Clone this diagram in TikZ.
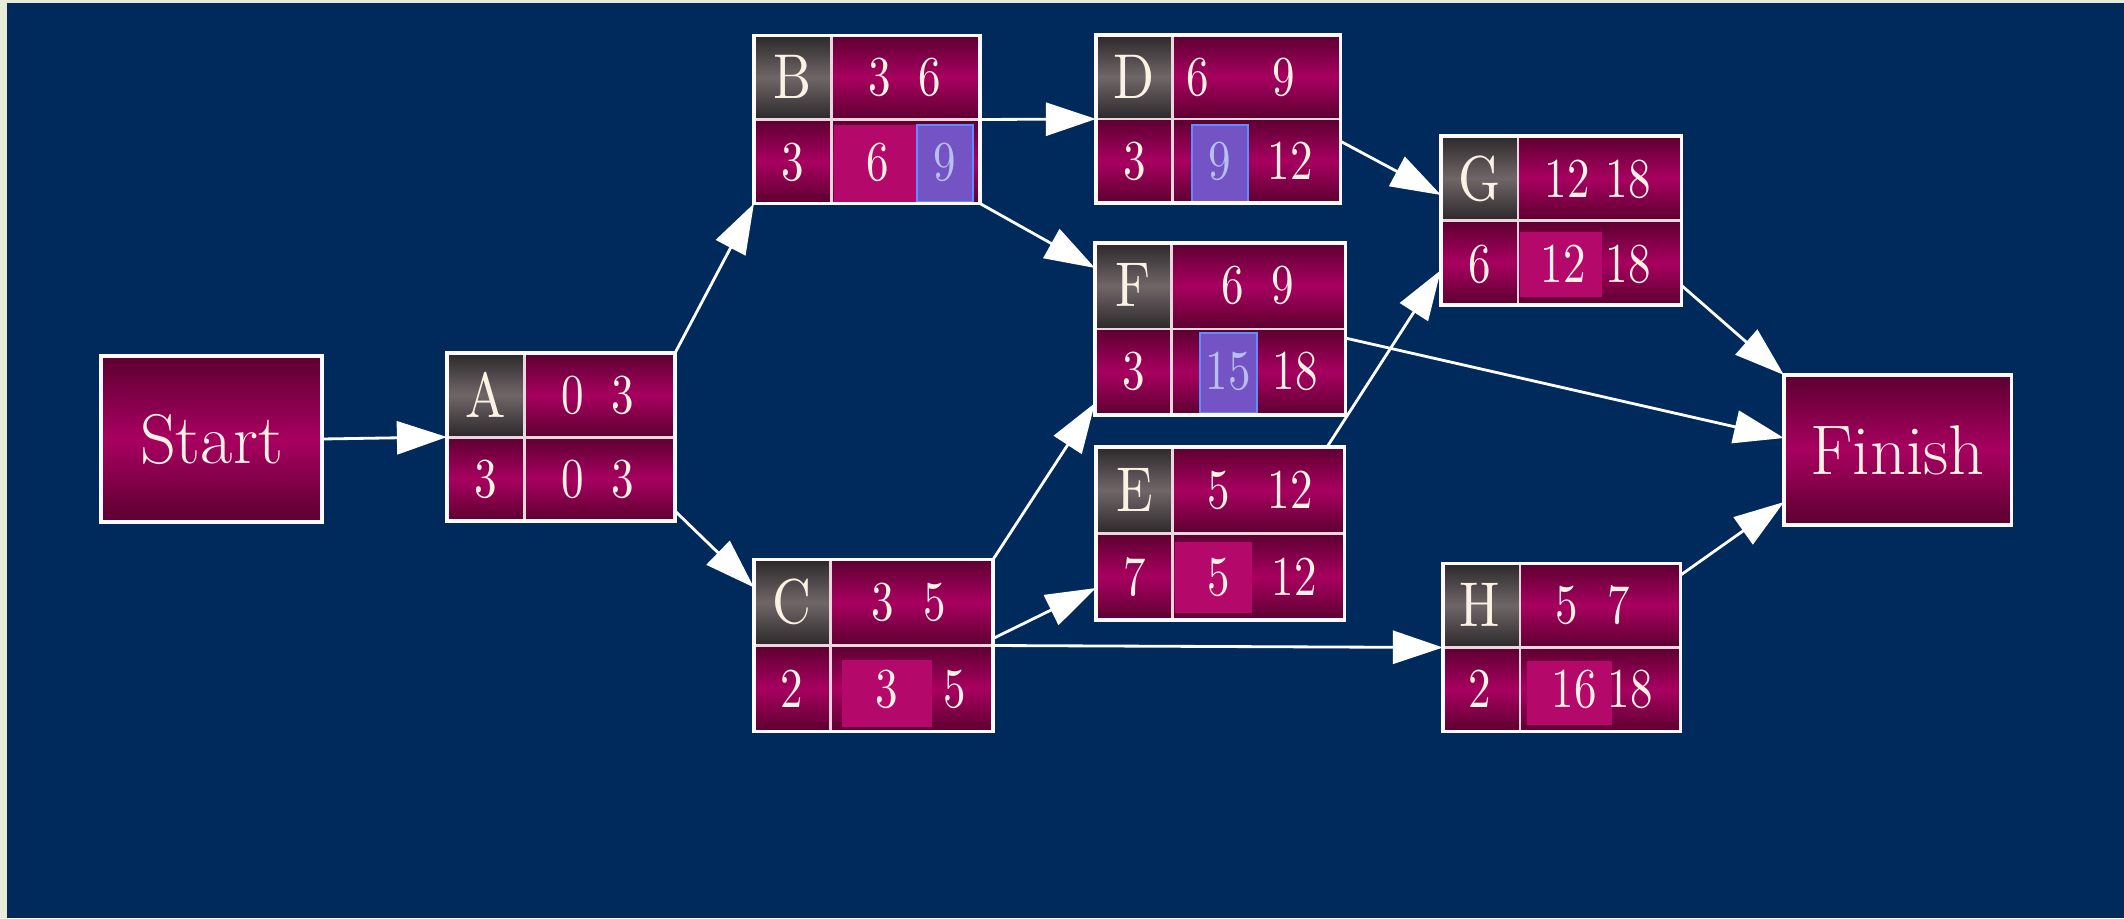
\documentclass[tikz,border=0pt]{standalone}
\usepackage{fontspec}
\newfontfamily\narrowfont{lmroman10-regular.otf}[FakeStretch=0.8]
\newfontfamily\letterfont{lmroman10-regular.otf}[FakeStretch=0.85]
\usepackage{tikz}
\usetikzlibrary{arrows.meta}

\definecolor{slidenavy}{RGB}{0,42,92}
\definecolor{slidecream}{RGB}{232,236,214}
\definecolor{crimdark}{RGB}{92,0,48}
\definecolor{crimmid}{RGB}{168,0,96}
\definecolor{crimlight}{RGB}{180,8,106}
\definecolor{namedark}{RGB}{44,40,42}
\definecolor{namemid}{RGB}{112,102,104}
\definecolor{pickfill}{RGB}{116,84,196}
\definecolor{pickline}{RGB}{96,140,255}
\definecolor{picktext}{RGB}{185,190,240}
\definecolor{gridline}{RGB}{236,214,222}
\definecolor{numtext}{RGB}{252,242,228}

\begin{document}
\begin{tikzpicture}[x=0.01cm, y=-0.01cm,
  every node/.style={inner sep=0pt, outer sep=0pt, text=numtext},
  actbox/.style={minimum height=1.68cm},
  namecell/.style={top color=namedark, bottom color=namedark, middle color=namemid},
  timecell/.style={top color=crimdark, bottom color=crimdark, middle color=crimmid},
  latecell/.style={fill=crimlight},
  critbox/.style={fill=pickfill, draw=pickline, line width=0.6pt},
  cellline/.style={draw=gridline, line width=0.85pt},
  boxline/.style={draw=white!92!pink, line width=0.9pt},
  flow/.style={draw=white, line width=0.8pt, -{Triangle[length=0.5cm, width=0.33cm]}},
  actname/.style={font=\letterfont\fontsize{18}{20}\selectfont},
  num/.style={font=\narrowfont\fontsize{16}{18}\selectfont},
  endbox/.style={timecell, boxline, font=\fontsize{20}{24}\selectfont}]
  \useasboundingbox (0,0) rectangle (2124,918);
  \fill[slidecream] (0,0) rectangle (2124,918);
  \fill[slidenavy] (7,3) rectangle (2124,918);
  % start and finish
  \node[endbox, minimum width=2.21cm, minimum height=1.66cm] (Start) at (211.5,439) {Start};
  \node[endbox, minimum width=2.27cm, minimum height=1.50cm] (Finish) at (1897.5,450) {Finish};
  % A
  \node[actbox, minimum width=2.28cm] (A) at (561,437) {};
  \shade[namecell] (A.north west) rectangle ([xshift=0.78cm]A.west);
  \shade[timecell] ([xshift=0.78cm]A.north west) rectangle (A.east);
  \shade[timecell] (A.west) rectangle (A.south east);
  \draw[cellline] (A.west) -- (A.east) ([xshift=0.78cm]A.north west) -- ([xshift=0.78cm]A.south west);
  \draw[boxline] (A.north west) rectangle (A.south east);
  \node[actname] (An) at (486,395) {A};
  \node[num] (Aes) at (573,395) {0};
  \node[num] (Aef) at (623,395) {3};
  \node[num] (Ad) at (486,479) {3};
  \node[num] (Als) at (573,479) {0};
  \node[num] (Alf) at (623,479) {3};
  % B
  \node[actbox, minimum width=2.26cm] (B) at (867,119.5) {};
  \shade[namecell] (B.north west) rectangle ([xshift=0.78cm]B.west);
  \shade[timecell] ([xshift=0.78cm]B.north west) rectangle (B.east);
  \shade[timecell] (B.west) rectangle (B.south east);
  \fill[latecell] (834,125) rectangle (916,202);
  \draw[critbox] (917,125) rectangle (973,202);
  \draw[cellline] (B.west) -- (B.east) ([xshift=0.78cm]B.north west) -- ([xshift=0.78cm]B.south west);
  \draw[boxline] (B.north west) rectangle (B.south east);
  \node[actname] (Bn) at (793,77) {B};
  \node[num] (Bes) at (880,77) {3};
  \node[num] (Bef) at (930,77) {6};
  \node[num] (Bd) at (793,162) {3};
  \node[num] (Bls) at (878,162) {6};
  \node[num, text=picktext] (Blf) at (945,162) {9};
  % C
  \node[actbox, minimum width=2.39cm, minimum height=1.72cm] (C) at (873.5,645.5) {};
  \shade[namecell] (C.north west) rectangle ([xshift=0.77cm]C.west);
  \shade[timecell] ([xshift=0.77cm]C.north west) rectangle (C.east);
  \shade[timecell] (C.west) rectangle (C.south east);
  \fill[latecell] (842,660) rectangle (932,727);
  \draw[cellline] (C.west) -- (C.east) ([xshift=0.77cm]C.north west) -- ([xshift=0.77cm]C.south west);
  \draw[boxline] (C.north west) rectangle (C.south east);
  \node[actname] (Cn) at (792,602) {C};
  \node[num] (Ces) at (883,602) {3};
  \node[num] (Cef) at (935,602) {5};
  \node[num] (Cd) at (792,689) {2};
  \node[num] (Cls) at (887,689) {3};
  \node[num] (Clf) at (955,689) {5};
  % D
  \node[actbox, minimum width=2.44cm] (D) at (1218,119) {};
  \shade[namecell] (D.north west) rectangle ([xshift=0.77cm]D.west);
  \shade[timecell] ([xshift=0.77cm]D.north west) rectangle (D.east);
  \shade[timecell] (D.west) rectangle (D.south east);
  \draw[critbox] (1192,125) rectangle (1248,202);
  \draw[cellline] (D.west) -- (D.east) ([xshift=0.77cm]D.north west) -- ([xshift=0.77cm]D.south west);
  \draw[boxline] (D.north west) rectangle (D.south east);
  \node[actname] (Dn) at (1134.5,77) {D};
  \node[num] (Des) at (1198,77) {6};
  \node[num] (Def) at (1284,77) {9};
  \node[num] (Dd) at (1134.5,161) {3};
  \node[num, text=picktext] (Dls) at (1220,161) {9};
  \node[num] (Dlf) at (1290,161) {12};
  % E
  \node[actbox, minimum width=2.48cm, minimum height=1.73cm] (E) at (1220,533.5) {};
  \shade[namecell] (E.north west) rectangle ([xshift=0.77cm]E.west);
  \shade[timecell] ([xshift=0.77cm]E.north west) rectangle (E.east);
  \shade[timecell] (E.west) rectangle (E.south east);
  \fill[latecell] (1175,542) rectangle (1252,613);
  \draw[cellline] (E.west) -- (E.east) ([xshift=0.77cm]E.north west) -- ([xshift=0.77cm]E.south west);
  \draw[boxline] (E.north west) rectangle (E.south east);
  \node[actname] (En) at (1134.5,490) {E};
  \node[num] (Ees) at (1219,490) {5};
  \node[num] (Eef) at (1290,490) {12};
  \node[num] (Ed) at (1134.5,577) {7};
  \node[num] (Els) at (1219,577) {5};
  \node[num] (Elf) at (1294,577) {12};
  % F
  \node[actbox, minimum width=2.50cm, minimum height=1.72cm] (F) at (1220,329) {};
  \shade[namecell] (F.north west) rectangle ([xshift=0.77cm]F.west);
  \shade[timecell] ([xshift=0.77cm]F.north west) rectangle (F.east);
  \shade[timecell] (F.west) rectangle (F.south east);
  \draw[critbox] (1200,333) rectangle (1257,413);
  \draw[cellline] (F.west) -- (F.east) ([xshift=0.77cm]F.north west) -- ([xshift=0.77cm]F.south west);
  \draw[boxline] (F.north west) rectangle (F.south east);
  \node[actname] (Fn) at (1133.5,285) {F};
  \node[num] (Fes) at (1233,285) {6};
  \node[num] (Fef) at (1283,285) {9};
  \node[num] (Fd) at (1133.5,371) {3};
  \node[num, text=picktext] (Fls) at (1228,371) {15};
  \node[num] (Flf) at (1295,371) {18};
  % G
  \node[actbox, minimum width=2.40cm, minimum height=1.69cm] (G) at (1561,220.5) {};
  \shade[namecell] (G.north west) rectangle ([xshift=0.77cm]G.west);
  \shade[timecell] ([xshift=0.77cm]G.north west) rectangle (G.east);
  \shade[timecell] (G.west) rectangle (G.south east);
  \fill[latecell] (1520,232) rectangle (1602,297);
  \draw[cellline] (G.west) -- (G.east) ([xshift=0.77cm]G.north west) -- ([xshift=0.77cm]G.south west);
  \draw[boxline] (G.north west) rectangle (G.south east);
  \node[actname] (Gn) at (1479.5,179) {G};
  \node[num] (Ges) at (1567,179) {12};
  \node[num] (Gef) at (1628,179) {18};
  \node[num] (Gd) at (1479.5,264) {6};
  \node[num] (Gls) at (1563,264) {12};
  \node[num] (Glf) at (1628,264) {18};
  % H
  \node[actbox, minimum width=2.37cm] (H) at (1561.5,647.5) {};
  \shade[namecell] (H.north west) rectangle ([xshift=0.77cm]H.west);
  \shade[timecell] ([xshift=0.77cm]H.north west) rectangle (H.east);
  \shade[timecell] (H.west) rectangle (H.south east);
  \fill[latecell] (1527,661) rectangle (1612,725);
  \draw[cellline] (H.west) -- (H.east) ([xshift=0.77cm]H.north west) -- ([xshift=0.77cm]H.south west);
  \draw[boxline] (H.north west) rectangle (H.south east);
  \node[actname] (Hn) at (1480,605) {H};
  \node[num] (Hes) at (1567,605) {5};
  \node[num] (Hef) at (1619,605) {7};
  \node[num] (Hd) at (1480,689) {2};
  \node[num] (Hls) at (1574,689) {16};
  \node[num] (Hlf) at (1630,689) {18};
  % arrows
  \draw[flow] (Start.east) -- (A.west);
  \draw[flow] (A.north east) -- (B.south west);
  \draw[flow] ([yshift=0.1cm]A.south east) -- ([yshift=-0.28cm]C.north west);
  \draw[flow] (B.east) -- (D.west);
  \draw[flow] (B.south east) -- ([yshift=-0.25cm]F.north west);
  \draw[flow] (C.north east) -- ([yshift=0.12cm]F.south west);
  \draw[flow] ([yshift=0.07cm]C.east) -- ([yshift=0.32cm]E.south west);
  \draw[flow] (C.east) -- (H.west);
  \draw[flow] ([yshift=-0.22cm]D.east) -- ([yshift=-0.59cm]G.north west);
  \draw[flow] ([xshift=-0.17cm]E.north east) -- ([yshift=0.35cm]G.south west);
  \draw[flow] ([yshift=-0.09cm]F.east) -- ([yshift=0.12cm]Finish.west);
  \draw[flow] ([yshift=0.2cm]G.south east) -- (Finish.north west);
  \draw[flow] ([yshift=-0.12cm]H.north east) -- ([yshift=0.23cm]Finish.south west);
\end{tikzpicture}
\end{document}
